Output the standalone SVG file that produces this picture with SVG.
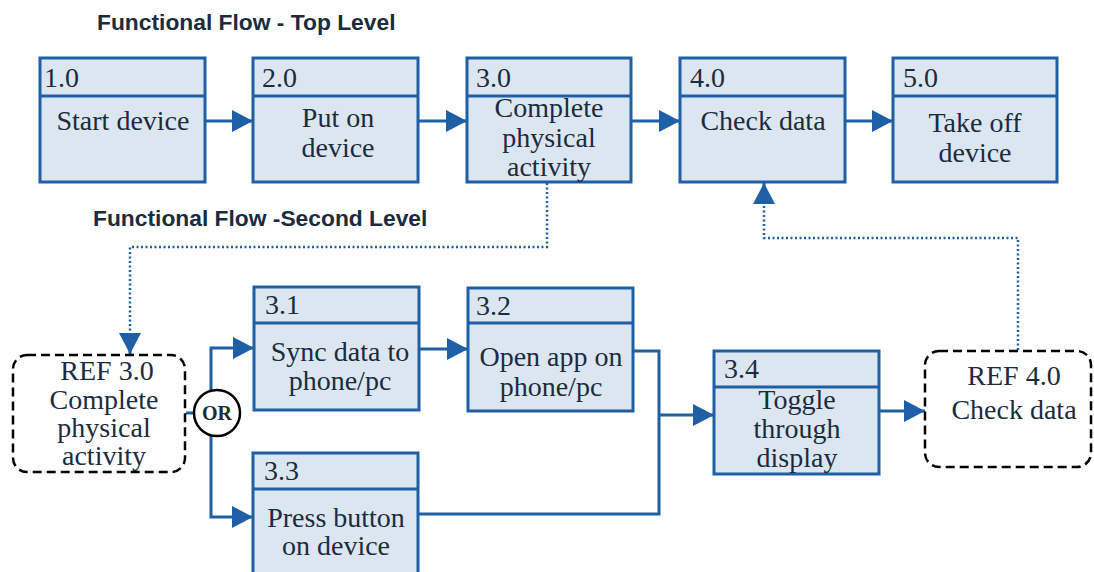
<svg xmlns="http://www.w3.org/2000/svg" width="1094" height="572" viewBox="0 0 1094 572">
<defs>
<style>
.box{fill:#dce6f1;stroke:#1f5fa5;stroke-width:3}
.hd{stroke:#1f5fa5;stroke-width:3}
.ref{fill:#fff;stroke:#000;stroke-width:2.5;stroke-dasharray:9 5}
.t{font-family:"Liberation Serif","Times New Roman",serif;font-size:28px;fill:#1b2b40}
.c{text-anchor:middle}
.title{font-family:"Liberation Sans",Arial,sans-serif;font-weight:bold;font-size:22.8px;fill:#1b2b40}
.con{fill:none;stroke:#1f5fa5;stroke-width:3}
.dot{fill:none;stroke:#1f5fa5;stroke-width:2.5;stroke-dasharray:2 2.5}
</style>
<marker id="ah" markerUnits="userSpaceOnUse" markerWidth="22" markerHeight="24" refX="21" refY="12" orient="auto">
<path d="M0,1 L21,12 L0,23 z" fill="#1f5fa5"/>
</marker>
</defs>
<text class="title" x="97" y="30">Functional Flow - Top Level</text>
<text class="title" x="93" y="226">Functional Flow -Second Level</text>

<g id="connectors">
<path class="con" d="M205,121 H253" marker-end="url(#ah)"/>
<path class="con" d="M418,121 H467" marker-end="url(#ah)"/>
<path class="con" d="M631,121 H680" marker-end="url(#ah)"/>
<path class="con" d="M845,121 H893" marker-end="url(#ah)"/>
<path class="dot" d="M547,183 V247 H130 V337"/>
<path class="con" d="M130,337 V354" marker-end="url(#ah)" stroke-width="0.1"/>
<path class="dot" d="M1018,350 V238 H764 V200"/>
<path class="con" d="M764,200 V183" marker-end="url(#ah)" stroke-width="0.1"/>
<path class="con" d="M186,413 H194"/>
<path class="con" d="M211,390 V348 H254" marker-end="url(#ah)"/>
<path class="con" d="M211,436 V517 H253" marker-end="url(#ah)"/>
<path class="con" d="M419,349 H468" marker-end="url(#ah)"/>
<path class="con" d="M633,351 H659 V514 H418"/>
<path class="con" d="M659,415 H714" marker-end="url(#ah)"/>
<path class="con" d="M879,411 H925" marker-end="url(#ah)"/>
</g>

<g id="n1">
<rect class="box" x="40" y="58" width="165" height="124"/>
<line class="hd" x1="40" y1="96" x2="205" y2="96"/>
<text class="t" x="44" y="87">1.0</text>
<text class="t c" x="123" y="130">Start device</text>
</g>
<g id="n2">
<rect class="box" x="253" y="58" width="165" height="124"/>
<line class="hd" x1="253" y1="96" x2="418" y2="96"/>
<text class="t" x="262" y="87">2.0</text>
<text class="t c" x="338" y="127">Put on</text>
<text class="t c" x="338" y="157">device</text>
</g>
<g id="n3">
<rect class="box" x="467" y="58" width="164" height="124"/>
<line class="hd" x1="467" y1="96" x2="631" y2="96"/>
<text class="t" x="476" y="87">3.0</text>
<text class="t c" x="549" y="117">Complete</text>
<text class="t c" x="549" y="147">physical</text>
<text class="t c" x="549" y="176">activity</text>
</g>
<g id="n4">
<rect class="box" x="680" y="58" width="165" height="124"/>
<line class="hd" x1="680" y1="96" x2="845" y2="96"/>
<text class="t" x="690" y="87">4.0</text>
<text class="t c" x="763" y="130">Check data</text>
</g>
<g id="n5">
<rect class="box" x="893" y="58" width="164" height="124"/>
<line class="hd" x1="893" y1="96" x2="1057" y2="96"/>
<text class="t" x="903" y="87">5.0</text>
<text class="t c" x="975" y="132">Take off</text>
<text class="t c" x="975" y="162">device</text>
</g>

<g id="ref30">
<rect class="ref" x="13" y="355" width="172" height="117" rx="14"/>
<text class="t c" x="107" y="380">REF 3.0</text>
<text class="t c" x="104" y="409">Complete</text>
<text class="t c" x="104" y="437">physical</text>
<text class="t c" x="104" y="465">activity</text>
</g>
<g id="or">
<circle cx="217" cy="413" r="23" fill="#fff" stroke="#000" stroke-width="2.5"/>
<text x="217" y="420" text-anchor="middle" font-family="Liberation Serif,serif" font-weight="bold" font-size="20" fill="#1b2b40">OR</text>
</g>
<g id="n31">
<rect class="box" x="254" y="287" width="165" height="123"/>
<line class="hd" x1="254" y1="323" x2="419" y2="323"/>
<text class="t" x="265" y="314">3.1</text>
<text class="t c" x="340" y="361">Sync data to</text>
<text class="t c" x="340" y="390">phone/pc</text>
</g>
<g id="n32">
<rect class="box" x="468" y="288" width="165" height="123"/>
<line class="hd" x1="468" y1="323" x2="633" y2="323"/>
<text class="t" x="476" y="315">3.2</text>
<text class="t c" x="551" y="366">Open app on</text>
<text class="t c" x="551" y="396">phone/pc</text>
</g>
<g id="n33">
<rect class="box" x="253" y="453" width="165" height="130"/>
<line class="hd" x1="253" y1="489" x2="418" y2="489"/>
<text class="t" x="264" y="480">3.3</text>
<text class="t c" x="336" y="527">Press button</text>
<text class="t c" x="336" y="555">on device</text>
</g>
<g id="n34">
<rect class="box" x="714" y="351" width="165" height="123"/>
<line class="hd" x1="714" y1="387" x2="879" y2="387"/>
<text class="t" x="724" y="378">3.4</text>
<text class="t c" x="797" y="409">Toggle</text>
<text class="t c" x="797" y="438">through</text>
<text class="t c" x="797" y="467">display</text>
</g>
<g id="ref40">
<rect class="ref" x="925" y="351" width="166" height="116" rx="14"/>
<text class="t c" x="1014" y="385">REF 4.0</text>
<text class="t c" x="1014" y="419">Check data</text>
</g>
</svg>
